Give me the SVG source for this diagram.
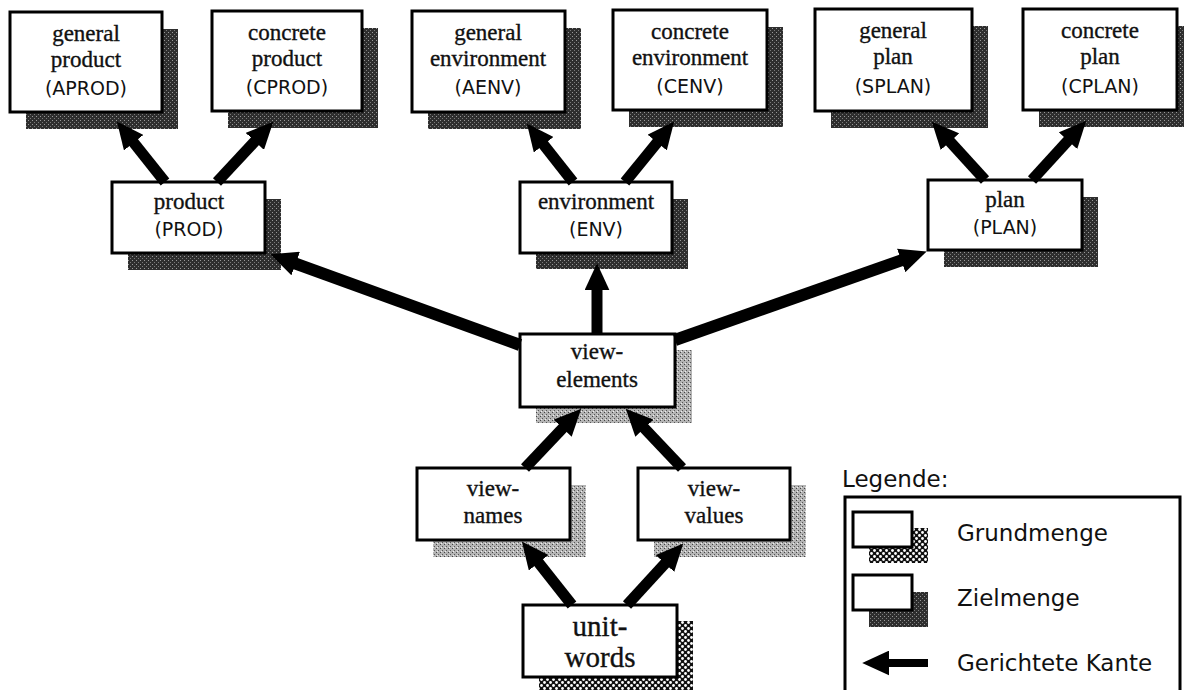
<svg xmlns="http://www.w3.org/2000/svg" width="1184" height="690" viewBox="0 0 1184 690">
<style>
.box{fill:#fff;stroke:#000;stroke-width:3}
.sd{fill:url(#dark)}
.sl{fill:url(#light)}
.sc{fill:url(#check)}
.t{font-family:"Liberation Serif","Times New Roman",serif;font-size:23px;text-anchor:middle;fill:#111;stroke:#111;stroke-width:0.35}
.tb{font-family:"Liberation Serif","Times New Roman",serif;font-size:29px;text-anchor:middle;fill:#111;stroke:#111;stroke-width:0.35}
.s{font-family:"DejaVu Sans","Liberation Sans",sans-serif;font-size:19px;text-anchor:middle;fill:#111}
.lg{font-family:"DejaVu Sans","Liberation Sans",sans-serif;font-size:23px;fill:#111}
.e{stroke:#000;stroke-width:11;fill:none;marker-end:url(#ah)}
.em{stroke:#000;stroke-width:12;fill:none;marker-end:url(#ah)}
</style>
<defs>
<pattern id="dark" width="4" height="4" patternUnits="userSpaceOnUse">
<rect width="4" height="4" fill="#2e2e2e"/>
<rect x="0" y="0" width="1" height="1" fill="#9a9a9a"/>
<rect x="2" y="2" width="1" height="1" fill="#7a7a7a"/>
</pattern>
<pattern id="light" width="4" height="4" patternUnits="userSpaceOnUse">
<rect width="4" height="4" fill="#b4b4b4"/>
<rect x="0" y="0" width="1" height="1" fill="#444"/>
<rect x="2" y="2" width="1" height="1" fill="#555"/>
<rect x="1" y="3" width="1" height="1" fill="#eee"/>
</pattern>
<pattern id="check" width="6" height="6" patternUnits="userSpaceOnUse">
<rect width="6" height="6" fill="#111"/>
<circle cx="1.5" cy="1.5" r="1.4" fill="#fff"/>
<circle cx="4.5" cy="4.5" r="1.4" fill="#fff"/>
</pattern>
<marker id="ah" markerUnits="userSpaceOnUse" viewBox="0 0 26 24" markerWidth="27" markerHeight="25" refX="5" refY="12" orient="auto">
<path d="M0,0 L26,12 L0,24 z" fill="#000"/>
</marker>
</defs>

<g id="aprod"><rect class="sd" x="26" y="29" width="152" height="100"/><rect class="box" x="10" y="12" width="152" height="100"/><text class="t" x="86" y="41">general</text><text class="t" x="86" y="67">product</text><text class="s" x="86" y="95">(APROD)</text></g>
<g id="cprod"><rect class="sd" x="228" y="28" width="150" height="100"/><rect class="box" x="212" y="11" width="150" height="100"/><text class="t" x="287" y="40">concrete</text><text class="t" x="287" y="66">product</text><text class="s" x="287" y="94">(CPROD)</text></g>
<g id="aenv"><rect class="sd" x="428" y="28" width="153" height="101"/><rect class="box" x="412" y="11" width="153" height="101"/><text class="t" x="488" y="40">general</text><text class="t" x="488" y="66">environment</text><text class="s" x="488" y="94">(AENV)</text></g>
<g id="cenv"><rect class="sd" x="629" y="27" width="154" height="100"/><rect class="box" x="613" y="10" width="154" height="100"/><text class="t" x="690" y="39">concrete</text><text class="t" x="690" y="65">environment</text><text class="s" x="690" y="93">(CENV)</text></g>
<g id="splan"><rect class="sd" x="831" y="26" width="157" height="102"/><rect class="box" x="815" y="9" width="157" height="102"/><text class="t" x="893" y="38">general</text><text class="t" x="893" y="64">plan</text><text class="s" x="893" y="93">(SPLAN)</text></g>
<g id="cplan"><rect class="sd" x="1039" y="26" width="154" height="101"/><rect class="box" x="1023" y="9" width="154" height="101"/><text class="t" x="1100" y="38">concrete</text><text class="t" x="1100" y="64">plan</text><text class="s" x="1100" y="93">(CPLAN)</text></g>
<g id="prod"><rect class="sd" x="128" y="199" width="153" height="71"/><rect class="box" x="112" y="182" width="153" height="71"/><text class="t" x="189" y="209">product</text><text class="s" x="189" y="236">(PROD)</text></g>
<g id="env"><rect class="sd" x="536" y="199" width="152" height="70"/><rect class="box" x="520" y="182" width="152" height="71"/><text class="t" x="596" y="209">environment</text><text class="s" x="596" y="236">(ENV)</text></g>
<g id="plan"><rect class="sd" x="944" y="197" width="154" height="70"/><rect class="box" x="928" y="180" width="154" height="70"/><text class="t" x="1005" y="207">plan</text><text class="s" x="1005" y="234">(PLAN)</text></g>
<g id="viewelements"><rect class="sl" x="536" y="350" width="156" height="73"/><rect class="box" x="520" y="334" width="155" height="73"/><text class="t" x="597" y="359">view-</text><text class="t" x="597" y="387">elements</text></g>
<g id="viewnames"><rect class="sl" x="433" y="485" width="153" height="72"/><rect class="box" x="417" y="468" width="153" height="72"/><text class="t" x="493" y="496">view-</text><text class="t" x="493" y="523">names</text></g>
<g id="viewvalues"><rect class="sl" x="654" y="485" width="152" height="72"/><rect class="box" x="638" y="468" width="152" height="72"/><text class="t" x="714" y="496">view-</text><text class="t" x="714" y="523">values</text></g>
<g id="unitwords"><rect class="sc" x="539" y="621" width="154" height="72"/><rect class="box" x="523" y="605" width="154" height="72"/><text class="tb" x="600" y="636">unit-</text><text class="tb" x="600" y="667">words</text></g>

<g id="legend">
<text class="lg" x="842" y="487">Legende:</text>
<rect x="845" y="497" width="335" height="205" fill="none" stroke="#000" stroke-width="3"/>
<rect class="sc" x="869" y="528" width="59" height="35"/>
<rect class="box" x="853" y="512" width="59" height="35"/>
<text class="lg" x="957" y="541">Grundmenge</text>
<rect class="sd" x="869" y="592" width="59" height="35"/>
<rect class="box" x="853" y="575" width="59" height="35"/>
<text class="lg" x="957" y="606">Zielmenge</text>
<line x1="928" y1="663" x2="884" y2="663" stroke="#000" stroke-width="8" marker-end="url(#ah)"/>
<text class="lg" x="957" y="671">Gerichtete Kante</text>
</g>

<g id="connectors">
<line class="e" x1="165" y1="182" x2="130.5" y2="138.6"/>
<line class="e" x1="217" y1="182" x2="258.4" y2="137.6"/>
<line class="e" x1="573" y1="182" x2="540.4" y2="140.7"/>
<line class="e" x1="625" y1="182" x2="660.4" y2="138.5"/>
<line class="e" x1="985" y1="180" x2="946.5" y2="137.8"/>
<line class="e" x1="1032" y1="180" x2="1071.5" y2="136.8"/>
<line class="em" x1="520" y1="345" x2="290.8" y2="261.8"/>
<line class="e" x1="597" y1="334" x2="597" y2="285"/>
<line class="em" x1="675" y1="340" x2="906.1" y2="258.7"/>
<line class="e" x1="525" y1="468" x2="566.2" y2="424.5"/>
<line class="e" x1="682" y1="468" x2="640.8" y2="424.5"/>
<line class="e" x1="572" y1="605" x2="535.4" y2="558.7"/>
<line class="e" x1="627" y1="605" x2="668.5" y2="559.7"/>
</g>
</svg>
